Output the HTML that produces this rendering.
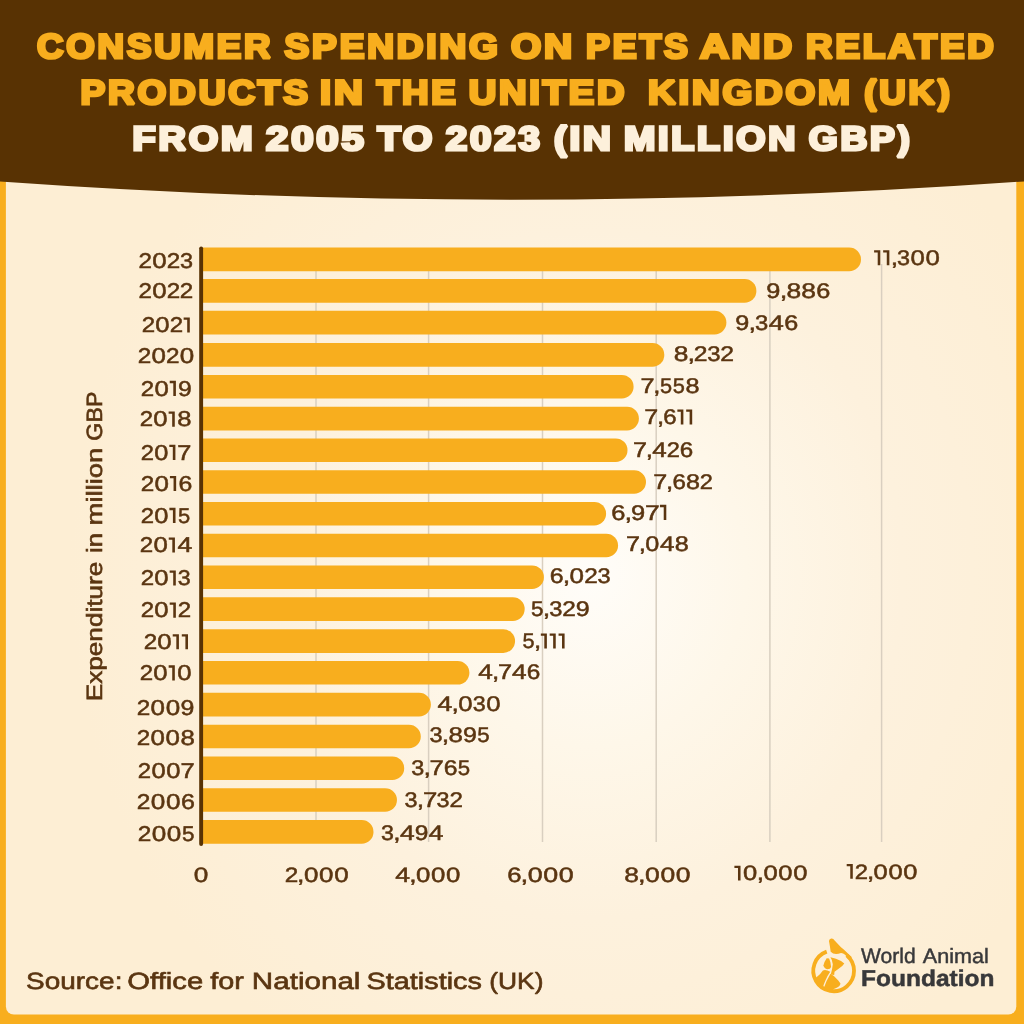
<!DOCTYPE html>
<html lang="en"><head><meta charset="utf-8"><title>Consumer spending on pets and related products in the UK 2005-2023</title>
<style>
html,body{margin:0;padding:0;background:#F8AE1E;}
body{width:1024px;height:1024px;overflow:hidden;font-family:"Liberation Sans",sans-serif;}
svg{will-change:transform;display:block;position:absolute;left:0;top:0;font-family:"Liberation Sans",sans-serif;}
text{white-space:pre;}
</style></head><body>
<svg width="1024" height="1024" viewBox="0 0 1024 1024" text-rendering="geometricPrecision">
<defs><radialGradient id="bg" gradientUnits="userSpaceOnUse" cx="590" cy="0" r="520" gradientTransform="translate(0,575) scale(1,1.1)"><stop offset="0" stop-color="#FFFDF9"/><stop offset="0.3" stop-color="#FEF7E9"/><stop offset="0.6" stop-color="#FDF1DD"/><stop offset="1" stop-color="#FDEED4"/></radialGradient></defs>
<rect x="0" y="0" width="1024" height="1024" fill="#F8AE1E"/>
<path d="M5.9,150 H1016.3 V1006.5 a8,8 0 0 1 -8,8 H13.9 a8,8 0 0 1 -8,-8 Z" fill="url(#bg)"/>
<rect x="315.25" y="264" width="1.5" height="578" fill="#D9CFC0"/>
<rect x="427.85" y="264" width="1.5" height="578" fill="#D9CFC0"/>
<rect x="541.75" y="264" width="1.5" height="578" fill="#D9CFC0"/>
<rect x="655.45" y="264" width="1.5" height="578" fill="#D9CFC0"/>
<rect x="769.15" y="264" width="1.5" height="578" fill="#D9CFC0"/>
<rect x="880.85" y="264" width="1.5" height="578" fill="#D9CFC0"/>
<path d="M203,247.60 H849.20 a11.80,11.80 0 0 1 0,23.60 H203 Z" fill="#F8AE1E"/>
<path d="M203,279.10 H744.60 a11.80,11.80 0 0 1 0,23.60 H203 Z" fill="#F8AE1E"/>
<path d="M203,310.80 H714.60 a11.80,11.80 0 0 1 0,23.60 H203 Z" fill="#F8AE1E"/>
<path d="M203,343.10 H652.50 a11.80,11.80 0 0 1 0,23.60 H203 Z" fill="#F8AE1E"/>
<path d="M203,374.90 H621.80 a11.80,11.80 0 0 1 0,23.60 H203 Z" fill="#F8AE1E"/>
<path d="M203,406.80 H627.10 a11.80,11.80 0 0 1 0,23.60 H203 Z" fill="#F8AE1E"/>
<path d="M203,438.40 H615.70 a11.80,11.80 0 0 1 0,23.60 H203 Z" fill="#F8AE1E"/>
<path d="M203,470.20 H634.20 a11.80,11.80 0 0 1 0,23.60 H203 Z" fill="#F8AE1E"/>
<path d="M203,501.90 H594.30 a11.80,11.80 0 0 1 0,23.60 H203 Z" fill="#F8AE1E"/>
<path d="M203,533.70 H606.30 a11.80,11.80 0 0 1 0,23.60 H203 Z" fill="#F8AE1E"/>
<path d="M203,565.40 H532.10 a11.80,11.80 0 0 1 0,23.60 H203 Z" fill="#F8AE1E"/>
<path d="M203,597.30 H512.90 a11.80,11.80 0 0 1 0,23.60 H203 Z" fill="#F8AE1E"/>
<path d="M203,629.30 H503.30 a11.80,11.80 0 0 1 0,23.60 H203 Z" fill="#F8AE1E"/>
<path d="M203,661.00 H457.60 a11.80,11.80 0 0 1 0,23.60 H203 Z" fill="#F8AE1E"/>
<path d="M203,692.80 H419.10 a11.80,11.80 0 0 1 0,23.60 H203 Z" fill="#F8AE1E"/>
<path d="M203,724.70 H409.00 a11.80,11.80 0 0 1 0,23.60 H203 Z" fill="#F8AE1E"/>
<path d="M203,756.40 H392.40 a11.80,11.80 0 0 1 0,23.60 H203 Z" fill="#F8AE1E"/>
<path d="M203,788.20 H385.20 a11.80,11.80 0 0 1 0,23.60 H203 Z" fill="#F8AE1E"/>
<path d="M203,820.10 H361.70 a11.80,11.80 0 0 1 0,23.60 H203 Z" fill="#F8AE1E"/>
<rect x="199.2" y="246.4" width="3.9" height="599.6" rx="1.9" fill="#583203"/>
<g font-size="21.37" fill="#5A3511" stroke="#5A3511" stroke-width="0.5" vector-effect="non-scaling-stroke"><text transform="translate(138.54,267.85) scale(1.135,1)" vector-effect="non-scaling-stroke">2</text><text transform="translate(152.25,267.85) scale(1.212,1)" vector-effect="non-scaling-stroke">0</text><text transform="translate(166.72,267.85) scale(1.135,1)" vector-effect="non-scaling-stroke">2</text><text transform="translate(179.92,267.85) scale(1.098,1)" vector-effect="non-scaling-stroke">3</text></g>
<g font-size="21.37" fill="#5A3511" stroke="#5A3511" stroke-width="0.5" vector-effect="non-scaling-stroke"><text transform="translate(138.54,298.35) scale(1.133,1)" vector-effect="non-scaling-stroke">2</text><text transform="translate(152.22,298.35) scale(1.209,1)" vector-effect="non-scaling-stroke">0</text><text transform="translate(166.66,298.35) scale(1.133,1)" vector-effect="non-scaling-stroke">2</text><text transform="translate(179.73,298.35) scale(1.133,1)" vector-effect="non-scaling-stroke">2</text></g>
<g font-size="21.37" fill="#5A3511" stroke="#5A3511" stroke-width="0.5" vector-effect="non-scaling-stroke"><text transform="translate(141.75,332.35) scale(1.126,1)" vector-effect="non-scaling-stroke">2</text><text transform="translate(155.35,332.35) scale(1.202,1)" vector-effect="non-scaling-stroke">0</text><text transform="translate(169.70,332.35) scale(1.126,1)" vector-effect="non-scaling-stroke">2</text><path stroke="none" d="M183.64,317.45 H189.80 V332.60 H187.20 V319.75 H183.64 Z"/></g>
<g font-size="21.37" fill="#5A3511" stroke="#5A3511" stroke-width="0.5" vector-effect="non-scaling-stroke"><text transform="translate(137.83,362.55) scale(1.138,1)" vector-effect="non-scaling-stroke">2</text><text transform="translate(151.58,362.55) scale(1.215,1)" vector-effect="non-scaling-stroke">0</text><text transform="translate(166.07,362.55) scale(1.138,1)" vector-effect="non-scaling-stroke">2</text><text transform="translate(179.81,362.55) scale(1.215,1)" vector-effect="non-scaling-stroke">0</text></g>
<g font-size="21.37" fill="#5A3511" stroke="#5A3511" stroke-width="0.5" vector-effect="non-scaling-stroke"><text transform="translate(140.74,395.75) scale(1.128,1)" vector-effect="non-scaling-stroke">2</text><text transform="translate(154.38,395.75) scale(1.205,1)" vector-effect="non-scaling-stroke">0</text><path stroke="none" d="M169.72,380.85 H175.90 V396.00 H173.30 V383.14 H169.72 Z"/><text transform="translate(178.06,395.75) scale(1.155,1)" vector-effect="non-scaling-stroke">9</text></g>
<g font-size="21.37" fill="#5A3511" stroke="#5A3511" stroke-width="0.5" vector-effect="non-scaling-stroke"><text transform="translate(139.75,426.45) scale(1.124,1)" vector-effect="non-scaling-stroke">2</text><text transform="translate(153.34,426.45) scale(1.201,1)" vector-effect="non-scaling-stroke">0</text><path stroke="none" d="M168.62,411.55 H174.78 V426.70 H172.18 V413.84 H168.62 Z"/><text transform="translate(177.13,426.45) scale(1.198,1)" vector-effect="non-scaling-stroke">8</text></g>
<g font-size="21.37" fill="#5A3511" stroke="#5A3511" stroke-width="0.5" vector-effect="non-scaling-stroke"><text transform="translate(140.76,459.65) scale(1.112,1)" vector-effect="non-scaling-stroke">2</text><text transform="translate(154.20,459.65) scale(1.187,1)" vector-effect="non-scaling-stroke">0</text><path stroke="none" d="M169.32,444.75 H175.41 V459.90 H172.81 V447.04 H169.32 Z"/><text transform="translate(177.16,459.65) scale(1.185,1)" vector-effect="non-scaling-stroke">7</text></g>
<g font-size="21.37" fill="#5A3511" stroke="#5A3511" stroke-width="0.5" vector-effect="non-scaling-stroke"><text transform="translate(140.73,490.85) scale(1.137,1)" vector-effect="non-scaling-stroke">2</text><text transform="translate(154.47,490.85) scale(1.215,1)" vector-effect="non-scaling-stroke">0</text><path stroke="none" d="M169.93,475.95 H176.16 V491.10 H173.56 V478.25 H169.93 Z"/><text transform="translate(178.50,490.85) scale(1.164,1)" vector-effect="non-scaling-stroke">6</text></g>
<g font-size="21.37" fill="#5A3511" stroke="#5A3511" stroke-width="0.5" vector-effect="non-scaling-stroke"><text transform="translate(140.76,522.75) scale(1.116,1)" vector-effect="non-scaling-stroke">2</text><text transform="translate(154.24,522.75) scale(1.191,1)" vector-effect="non-scaling-stroke">0</text><path stroke="none" d="M169.41,507.85 H175.52 V523.00 H172.92 V510.14 H169.41 Z"/><text transform="translate(178.06,522.75) scale(1.026,1)" vector-effect="non-scaling-stroke">5</text></g>
<g font-size="21.37" fill="#5A3511" stroke="#5A3511" stroke-width="0.5" vector-effect="non-scaling-stroke"><text transform="translate(139.74,552.35) scale(1.129,1)" vector-effect="non-scaling-stroke">2</text><text transform="translate(153.39,552.35) scale(1.206,1)" vector-effect="non-scaling-stroke">0</text><path stroke="none" d="M168.74,537.45 H174.92 V552.60 H172.32 V539.75 H168.74 Z"/><text transform="translate(177.44,552.35) scale(1.242,1)" vector-effect="non-scaling-stroke">4</text></g>
<g font-size="21.37" fill="#5A3511" stroke="#5A3511" stroke-width="0.5" vector-effect="non-scaling-stroke"><text transform="translate(140.75,585.35) scale(1.125,1)" vector-effect="non-scaling-stroke">2</text><text transform="translate(154.35,585.35) scale(1.202,1)" vector-effect="non-scaling-stroke">0</text><path stroke="none" d="M169.65,570.45 H175.81 V585.60 H173.21 V572.75 H169.65 Z"/><text transform="translate(177.83,585.35) scale(1.089,1)" vector-effect="non-scaling-stroke">3</text></g>
<g font-size="21.37" fill="#5A3511" stroke="#5A3511" stroke-width="0.5" vector-effect="non-scaling-stroke"><text transform="translate(140.75,617.45) scale(1.127,1)" vector-effect="non-scaling-stroke">2</text><text transform="translate(154.37,617.45) scale(1.204,1)" vector-effect="non-scaling-stroke">0</text><path stroke="none" d="M169.70,602.55 H175.87 V617.70 H173.27 V604.85 H169.70 Z"/><text transform="translate(177.78,617.45) scale(1.127,1)" vector-effect="non-scaling-stroke">2</text></g>
<g font-size="21.37" fill="#5A3511" stroke="#5A3511" stroke-width="0.5" vector-effect="non-scaling-stroke"><text transform="translate(143.64,649.05) scale(1.133,1)" vector-effect="non-scaling-stroke">2</text><text transform="translate(157.32,649.05) scale(1.209,1)" vector-effect="non-scaling-stroke">0</text><path stroke="none" d="M172.72,634.15 H178.92 V649.30 H176.32 V636.44 H172.72 Z"/><path stroke="none" d="M181.80,634.15 H188.00 V649.30 H185.40 V636.44 H181.80 Z"/></g>
<g font-size="21.37" fill="#5A3511" stroke="#5A3511" stroke-width="0.5" vector-effect="non-scaling-stroke"><text transform="translate(139.75,680.25) scale(1.126,1)" vector-effect="non-scaling-stroke">2</text><text transform="translate(153.35,680.25) scale(1.202,1)" vector-effect="non-scaling-stroke">0</text><path stroke="none" d="M168.66,665.35 H174.83 V680.50 H172.23 V667.64 H168.66 Z"/><text transform="translate(177.35,680.25) scale(1.202,1)" vector-effect="non-scaling-stroke">0</text></g>
<g font-size="21.37" fill="#5A3511" stroke="#5A3511" stroke-width="0.5" vector-effect="non-scaling-stroke"><text transform="translate(136.83,714.55) scale(1.140,1)" vector-effect="non-scaling-stroke">2</text><text transform="translate(150.60,714.55) scale(1.217,1)" vector-effect="non-scaling-stroke">0</text><text transform="translate(165.75,714.55) scale(1.217,1)" vector-effect="non-scaling-stroke">0</text><text transform="translate(180.53,714.55) scale(1.167,1)" vector-effect="non-scaling-stroke">9</text></g>
<g font-size="21.37" fill="#5A3511" stroke="#5A3511" stroke-width="0.5" vector-effect="non-scaling-stroke"><text transform="translate(136.84,744.65) scale(1.134,1)" vector-effect="non-scaling-stroke">2</text><text transform="translate(150.54,744.65) scale(1.211,1)" vector-effect="non-scaling-stroke">0</text><text transform="translate(165.61,744.65) scale(1.211,1)" vector-effect="non-scaling-stroke">0</text><text transform="translate(180.52,744.65) scale(1.208,1)" vector-effect="non-scaling-stroke">8</text></g>
<g font-size="21.37" fill="#5A3511" stroke="#5A3511" stroke-width="0.5" vector-effect="non-scaling-stroke"><text transform="translate(137.85,777.85) scale(1.119,1)" vector-effect="non-scaling-stroke">2</text><text transform="translate(151.38,777.85) scale(1.195,1)" vector-effect="non-scaling-stroke">0</text><text transform="translate(166.25,777.85) scale(1.195,1)" vector-effect="non-scaling-stroke">0</text><text transform="translate(180.38,777.85) scale(1.193,1)" vector-effect="non-scaling-stroke">7</text></g>
<g font-size="21.37" fill="#5A3511" stroke="#5A3511" stroke-width="0.5" vector-effect="non-scaling-stroke"><text transform="translate(136.83,809.15) scale(1.146,1)" vector-effect="non-scaling-stroke">2</text><text transform="translate(150.66,809.15) scale(1.224,1)" vector-effect="non-scaling-stroke">0</text><text transform="translate(165.89,809.15) scale(1.224,1)" vector-effect="non-scaling-stroke">0</text><text transform="translate(180.91,809.15) scale(1.173,1)" vector-effect="non-scaling-stroke">6</text></g>
<g font-size="21.37" fill="#5A3511" stroke="#5A3511" stroke-width="0.5" vector-effect="non-scaling-stroke"><text transform="translate(137.83,841.35) scale(1.144,1)" vector-effect="non-scaling-stroke">2</text><text transform="translate(151.64,841.35) scale(1.221,1)" vector-effect="non-scaling-stroke">0</text><text transform="translate(166.84,841.35) scale(1.221,1)" vector-effect="non-scaling-stroke">0</text><text transform="translate(182.07,841.35) scale(1.052,1)" vector-effect="non-scaling-stroke">5</text></g>
<g font-size="21.23" fill="#5A3511" stroke="#5A3511" stroke-width="0.5" vector-effect="non-scaling-stroke"><path stroke="none" d="M874.10,250.15 H880.29 V265.20 H877.71 V252.43 H874.10 Z"/><path stroke="none" d="M883.16,250.15 H889.36 V265.20 H886.77 V252.43 H883.16 Z"/><text transform="translate(890.64,264.95) scale(1.254,1)" vector-effect="non-scaling-stroke">,</text><text transform="translate(896.91,264.95) scale(1.102,1)" vector-effect="non-scaling-stroke">3</text><text transform="translate(910.46,264.95) scale(1.216,1)" vector-effect="non-scaling-stroke">0</text><text transform="translate(925.49,264.95) scale(1.216,1)" vector-effect="non-scaling-stroke">0</text></g>
<g font-size="21.23" fill="#5A3511" stroke="#5A3511" stroke-width="0.5" vector-effect="non-scaling-stroke"><text transform="translate(766.35,298.15) scale(1.193,1)" vector-effect="non-scaling-stroke">9</text><text transform="translate(779.68,298.15) scale(1.288,1)" vector-effect="non-scaling-stroke">,</text><text transform="translate(786.45,298.15) scale(1.242,1)" vector-effect="non-scaling-stroke">8</text><text transform="translate(801.37,298.15) scale(1.242,1)" vector-effect="non-scaling-stroke">8</text><text transform="translate(816.27,298.15) scale(1.193,1)" vector-effect="non-scaling-stroke">6</text></g>
<g font-size="21.23" fill="#5A3511" stroke="#5A3511" stroke-width="0.5" vector-effect="non-scaling-stroke"><text transform="translate(735.35,330.45) scale(1.187,1)" vector-effect="non-scaling-stroke">9</text><text transform="translate(748.62,330.45) scale(1.281,1)" vector-effect="non-scaling-stroke">,</text><text transform="translate(755.01,330.45) scale(1.122,1)" vector-effect="non-scaling-stroke">3</text><text transform="translate(768.80,330.45) scale(1.276,1)" vector-effect="non-scaling-stroke">4</text><text transform="translate(784.14,330.45) scale(1.187,1)" vector-effect="non-scaling-stroke">6</text></g>
<g font-size="21.23" fill="#5A3511" stroke="#5A3511" stroke-width="0.5" vector-effect="non-scaling-stroke"><text transform="translate(673.63,360.75) scale(1.240,1)" vector-effect="non-scaling-stroke">8</text><text transform="translate(687.42,360.75) scale(1.286,1)" vector-effect="non-scaling-stroke">,</text><text transform="translate(693.73,360.75) scale(1.164,1)" vector-effect="non-scaling-stroke">2</text><text transform="translate(707.16,360.75) scale(1.126,1)" vector-effect="non-scaling-stroke">3</text><text transform="translate(720.37,360.75) scale(1.164,1)" vector-effect="non-scaling-stroke">2</text></g>
<g font-size="21.23" fill="#5A3511" stroke="#5A3511" stroke-width="0.5" vector-effect="non-scaling-stroke"><text transform="translate(640.62,393.35) scale(1.189,1)" vector-effect="non-scaling-stroke">7</text><text transform="translate(653.37,393.35) scale(1.225,1)" vector-effect="non-scaling-stroke">,</text><text transform="translate(660.05,393.35) scale(1.025,1)" vector-effect="non-scaling-stroke">5</text><text transform="translate(672.84,393.35) scale(1.025,1)" vector-effect="non-scaling-stroke">5</text><text transform="translate(685.42,393.35) scale(1.188,1)" vector-effect="non-scaling-stroke">8</text></g>
<g font-size="21.23" fill="#5A3511" stroke="#5A3511" stroke-width="0.5" vector-effect="non-scaling-stroke"><text transform="translate(644.24,424.25) scale(1.180,1)" vector-effect="non-scaling-stroke">7</text><text transform="translate(656.89,424.25) scale(1.214,1)" vector-effect="non-scaling-stroke">,</text><text transform="translate(663.28,424.25) scale(1.132,1)" vector-effect="non-scaling-stroke">6</text><path stroke="none" d="M677.36,409.45 H683.38 V424.50 H680.80 V411.73 H677.36 Z"/><path stroke="none" d="M686.18,409.45 H692.20 V424.50 H689.62 V411.73 H686.18 Z"/></g>
<g font-size="21.23" fill="#5A3511" stroke="#5A3511" stroke-width="0.5" vector-effect="non-scaling-stroke"><text transform="translate(633.03,457.25) scale(1.186,1)" vector-effect="non-scaling-stroke">7</text><text transform="translate(645.75,457.25) scale(1.222,1)" vector-effect="non-scaling-stroke">,</text><text transform="translate(652.37,457.25) scale(1.225,1)" vector-effect="non-scaling-stroke">4</text><text transform="translate(666.69,457.25) scale(1.113,1)" vector-effect="non-scaling-stroke">2</text><text transform="translate(679.86,457.25) scale(1.139,1)" vector-effect="non-scaling-stroke">6</text></g>
<g font-size="21.23" fill="#5A3511" stroke="#5A3511" stroke-width="0.5" vector-effect="non-scaling-stroke"><text transform="translate(653.33,489.05) scale(1.183,1)" vector-effect="non-scaling-stroke">7</text><text transform="translate(666.02,489.05) scale(1.218,1)" vector-effect="non-scaling-stroke">,</text><text transform="translate(672.43,489.05) scale(1.136,1)" vector-effect="non-scaling-stroke">6</text><text transform="translate(686.05,489.05) scale(1.182,1)" vector-effect="non-scaling-stroke">8</text><text transform="translate(699.85,489.05) scale(1.110,1)" vector-effect="non-scaling-stroke">2</text></g>
<g font-size="21.23" fill="#5A3511" stroke="#5A3511" stroke-width="0.5" vector-effect="non-scaling-stroke"><text transform="translate(611.18,519.65) scale(1.199,1)" vector-effect="non-scaling-stroke">6</text><text transform="translate(624.41,519.65) scale(1.296,1)" vector-effect="non-scaling-stroke">,</text><text transform="translate(631.02,519.65) scale(1.199,1)" vector-effect="non-scaling-stroke">9</text><text transform="translate(644.93,519.65) scale(1.250,1)" vector-effect="non-scaling-stroke">7</text><path stroke="none" d="M659.94,504.85 H666.30 V519.90 H663.72 V507.13 H659.94 Z"/></g>
<g font-size="21.23" fill="#5A3511" stroke="#5A3511" stroke-width="0.5" vector-effect="non-scaling-stroke"><text transform="translate(625.93,551.25) scale(1.187,1)" vector-effect="non-scaling-stroke">7</text><text transform="translate(638.65,551.25) scale(1.222,1)" vector-effect="non-scaling-stroke">,</text><text transform="translate(645.28,551.25) scale(1.189,1)" vector-effect="non-scaling-stroke">0</text><text transform="translate(659.98,551.25) scale(1.225,1)" vector-effect="non-scaling-stroke">4</text><text transform="translate(674.75,551.25) scale(1.186,1)" vector-effect="non-scaling-stroke">8</text></g>
<g font-size="21.23" fill="#5A3511" stroke="#5A3511" stroke-width="0.5" vector-effect="non-scaling-stroke"><text transform="translate(549.80,583.05) scale(1.174,1)" vector-effect="non-scaling-stroke">6</text><text transform="translate(562.77,583.05) scale(1.265,1)" vector-effect="non-scaling-stroke">,</text><text transform="translate(569.61,583.05) scale(1.225,1)" vector-effect="non-scaling-stroke">0</text><text transform="translate(584.13,583.05) scale(1.147,1)" vector-effect="non-scaling-stroke">2</text><text transform="translate(597.38,583.05) scale(1.110,1)" vector-effect="non-scaling-stroke">3</text></g>
<g font-size="21.23" fill="#5A3511" stroke="#5A3511" stroke-width="0.5" vector-effect="non-scaling-stroke"><text transform="translate(530.95,616.15) scale(1.059,1)" vector-effect="non-scaling-stroke">5</text><text transform="translate(542.83,616.15) scale(1.270,1)" vector-effect="non-scaling-stroke">,</text><text transform="translate(549.18,616.15) scale(1.114,1)" vector-effect="non-scaling-stroke">3</text><text transform="translate(562.25,616.15) scale(1.151,1)" vector-effect="non-scaling-stroke">2</text><text transform="translate(575.69,616.15) scale(1.178,1)" vector-effect="non-scaling-stroke">9</text></g>
<g font-size="21.23" fill="#5A3511" stroke="#5A3511" stroke-width="0.5" vector-effect="non-scaling-stroke"><text transform="translate(522.38,648.35) scale(1.022,1)" vector-effect="non-scaling-stroke">5</text><text transform="translate(533.89,648.35) scale(1.220,1)" vector-effect="non-scaling-stroke">,</text><path stroke="none" d="M540.83,633.55 H546.88 V648.60 H544.30 V635.83 H540.83 Z"/><path stroke="none" d="M549.69,633.55 H555.74 V648.60 H553.16 V635.83 H549.69 Z"/><path stroke="none" d="M558.55,633.55 H564.60 V648.60 H562.02 V635.83 H558.55 Z"/></g>
<g font-size="21.23" fill="#5A3511" stroke="#5A3511" stroke-width="0.5" vector-effect="non-scaling-stroke"><text transform="translate(478.16,679.35) scale(1.234,1)" vector-effect="non-scaling-stroke">4</text><text transform="translate(491.97,679.35) scale(1.232,1)" vector-effect="non-scaling-stroke">,</text><text transform="translate(497.90,679.35) scale(1.195,1)" vector-effect="non-scaling-stroke">7</text><text transform="translate(511.93,679.35) scale(1.234,1)" vector-effect="non-scaling-stroke">4</text><text transform="translate(526.77,679.35) scale(1.147,1)" vector-effect="non-scaling-stroke">6</text></g>
<g font-size="21.23" fill="#5A3511" stroke="#5A3511" stroke-width="0.5" vector-effect="non-scaling-stroke"><text transform="translate(437.45,710.75) scale(1.250,1)" vector-effect="non-scaling-stroke">4</text><text transform="translate(451.44,710.75) scale(1.251,1)" vector-effect="non-scaling-stroke">,</text><text transform="translate(458.20,710.75) scale(1.213,1)" vector-effect="non-scaling-stroke">0</text><text transform="translate(472.70,710.75) scale(1.099,1)" vector-effect="non-scaling-stroke">3</text><text transform="translate(486.22,710.75) scale(1.213,1)" vector-effect="non-scaling-stroke">0</text></g>
<g font-size="21.23" fill="#5A3511" stroke="#5A3511" stroke-width="0.5" vector-effect="non-scaling-stroke"><text transform="translate(429.47,742.45) scale(1.107,1)" vector-effect="non-scaling-stroke">3</text><text transform="translate(441.83,742.45) scale(1.262,1)" vector-effect="non-scaling-stroke">,</text><text transform="translate(448.47,742.45) scale(1.219,1)" vector-effect="non-scaling-stroke">8</text><text transform="translate(462.95,742.45) scale(1.171,1)" vector-effect="non-scaling-stroke">9</text><text transform="translate(477.35,742.45) scale(1.052,1)" vector-effect="non-scaling-stroke">5</text></g>
<g font-size="21.23" fill="#5A3511" stroke="#5A3511" stroke-width="0.5" vector-effect="non-scaling-stroke"><text transform="translate(411.27,775.45) scale(1.102,1)" vector-effect="non-scaling-stroke">3</text><text transform="translate(423.57,775.45) scale(1.254,1)" vector-effect="non-scaling-stroke">,</text><text transform="translate(429.59,775.45) scale(1.214,1)" vector-effect="non-scaling-stroke">7</text><text transform="translate(443.64,775.45) scale(1.165,1)" vector-effect="non-scaling-stroke">6</text><text transform="translate(457.81,775.45) scale(1.047,1)" vector-effect="non-scaling-stroke">5</text></g>
<g font-size="21.23" fill="#5A3511" stroke="#5A3511" stroke-width="0.5" vector-effect="non-scaling-stroke"><text transform="translate(404.57,807.35) scale(1.101,1)" vector-effect="non-scaling-stroke">3</text><text transform="translate(416.87,807.35) scale(1.253,1)" vector-effect="non-scaling-stroke">,</text><text transform="translate(422.88,807.35) scale(1.213,1)" vector-effect="non-scaling-stroke">7</text><text transform="translate(436.62,807.35) scale(1.101,1)" vector-effect="non-scaling-stroke">3</text><text transform="translate(449.55,807.35) scale(1.138,1)" vector-effect="non-scaling-stroke">2</text></g>
<g font-size="21.23" fill="#5A3511" stroke="#5A3511" stroke-width="0.5" vector-effect="non-scaling-stroke"><text transform="translate(380.98,839.55) scale(1.092,1)" vector-effect="non-scaling-stroke">3</text><text transform="translate(393.18,839.55) scale(1.242,1)" vector-effect="non-scaling-stroke">,</text><text transform="translate(399.90,839.55) scale(1.242,1)" vector-effect="non-scaling-stroke">4</text><text transform="translate(414.67,839.55) scale(1.155,1)" vector-effect="non-scaling-stroke">9</text><text transform="translate(428.84,839.55) scale(1.242,1)" vector-effect="non-scaling-stroke">4</text></g>
<g font-size="20.79" fill="#5A3511" stroke="#5A3511" stroke-width="0.5" vector-effect="non-scaling-stroke"><text transform="translate(193.70,882.35) scale(1.259,1)" vector-effect="non-scaling-stroke">0</text></g>
<g font-size="20.79" fill="#5A3511" stroke="#5A3511" stroke-width="0.5" vector-effect="non-scaling-stroke"><text transform="translate(284.64,882.35) scale(1.168,1)" vector-effect="non-scaling-stroke">2</text><text transform="translate(297.10,882.35) scale(1.287,1)" vector-effect="non-scaling-stroke">,</text><text transform="translate(303.92,882.35) scale(1.247,1)" vector-effect="non-scaling-stroke">0</text><text transform="translate(319.02,882.35) scale(1.247,1)" vector-effect="non-scaling-stroke">0</text><text transform="translate(334.13,882.35) scale(1.247,1)" vector-effect="non-scaling-stroke">0</text></g>
<g font-size="20.79" fill="#5A3511" stroke="#5A3511" stroke-width="0.5" vector-effect="non-scaling-stroke"><text transform="translate(395.15,882.35) scale(1.276,1)" vector-effect="non-scaling-stroke">4</text><text transform="translate(409.14,882.35) scale(1.277,1)" vector-effect="non-scaling-stroke">,</text><text transform="translate(415.91,882.35) scale(1.239,1)" vector-effect="non-scaling-stroke">0</text><text transform="translate(430.91,882.35) scale(1.239,1)" vector-effect="non-scaling-stroke">0</text><text transform="translate(445.92,882.35) scale(1.239,1)" vector-effect="non-scaling-stroke">0</text></g>
<g font-size="20.79" fill="#5A3511" stroke="#5A3511" stroke-width="0.5" vector-effect="non-scaling-stroke"><text transform="translate(507.26,882.35) scale(1.236,1)" vector-effect="non-scaling-stroke">6</text><text transform="translate(520.62,882.35) scale(1.338,1)" vector-effect="non-scaling-stroke">,</text><text transform="translate(527.67,882.35) scale(1.290,1)" vector-effect="non-scaling-stroke">0</text><text transform="translate(543.27,882.35) scale(1.290,1)" vector-effect="non-scaling-stroke">0</text><text transform="translate(558.87,882.35) scale(1.290,1)" vector-effect="non-scaling-stroke">0</text></g>
<g font-size="20.79" fill="#5A3511" stroke="#5A3511" stroke-width="0.5" vector-effect="non-scaling-stroke"><text transform="translate(624.23,882.35) scale(1.271,1)" vector-effect="non-scaling-stroke">8</text><text transform="translate(638.07,882.35) scale(1.318,1)" vector-effect="non-scaling-stroke">,</text><text transform="translate(645.03,882.35) scale(1.273,1)" vector-effect="non-scaling-stroke">0</text><text transform="translate(660.44,882.35) scale(1.273,1)" vector-effect="non-scaling-stroke">0</text><text transform="translate(675.85,882.35) scale(1.273,1)" vector-effect="non-scaling-stroke">0</text></g>
<g font-size="20.79" fill="#5A3511" stroke="#5A3511" stroke-width="0.5" vector-effect="non-scaling-stroke"><path stroke="none" d="M734.40,865.65 H740.53 V880.40 H737.99 V867.88 H734.40 Z"/><text transform="translate(743.04,880.15) scale(1.228,1)" vector-effect="non-scaling-stroke">0</text><text transform="translate(756.68,880.15) scale(1.264,1)" vector-effect="non-scaling-stroke">,</text><text transform="translate(763.38,880.15) scale(1.228,1)" vector-effect="non-scaling-stroke">0</text><text transform="translate(778.26,880.15) scale(1.228,1)" vector-effect="non-scaling-stroke">0</text><text transform="translate(793.14,880.15) scale(1.228,1)" vector-effect="non-scaling-stroke">0</text></g>
<g font-size="20.79" fill="#5A3511" stroke="#5A3511" stroke-width="0.5" vector-effect="non-scaling-stroke"><path stroke="none" d="M846.70,864.05 H852.80 V878.80 H850.26 V866.28 H846.70 Z"/><text transform="translate(854.69,878.55) scale(1.144,1)" vector-effect="non-scaling-stroke">2</text><text transform="translate(866.92,878.55) scale(1.257,1)" vector-effect="non-scaling-stroke">,</text><text transform="translate(873.59,878.55) scale(1.222,1)" vector-effect="non-scaling-stroke">0</text><text transform="translate(888.40,878.55) scale(1.222,1)" vector-effect="non-scaling-stroke">0</text><text transform="translate(903.20,878.55) scale(1.222,1)" vector-effect="non-scaling-stroke">0</text></g>
<text transform="translate(102.20,701.26) rotate(-90) scale(1.1833,1)" font-size="22.11" fill="#5A3511" stroke="#5A3511" stroke-width="0.6" vector-effect="non-scaling-stroke">Expenditure</text>
<text transform="translate(102.20,553.04) rotate(-90) scale(1.1641,1)" font-size="22.11" fill="#5A3511" stroke="#5A3511" stroke-width="0.6" vector-effect="non-scaling-stroke">in</text>
<text transform="translate(102.20,525.45) rotate(-90) scale(1.2413,1)" font-size="22.11" fill="#5A3511" stroke="#5A3511" stroke-width="0.6" vector-effect="non-scaling-stroke">million</text>
<text transform="translate(102.20,440.66) rotate(-90) scale(1.0531,1)" font-size="22.11" fill="#5A3511" stroke="#5A3511" stroke-width="0.6" vector-effect="non-scaling-stroke">GBP</text>
<path d="M0,0 H1024 V181.4 Q512,218.0 0,181.5 Z" fill="#583203"/>
<text transform="translate(37.03,58.30) scale(1.0679,1)" font-size="34.33" font-weight="700" fill="#F8AE1E" stroke="#F8AE1E" stroke-width="3.0" stroke-linejoin="miter" stroke-miterlimit="2" vector-effect="non-scaling-stroke" letter-spacing="2.622">CONSUMER</text>
<text transform="translate(284.59,58.30) scale(1.0801,1)" font-size="34.33" font-weight="700" fill="#F8AE1E" stroke="#F8AE1E" stroke-width="3.0" stroke-linejoin="miter" stroke-miterlimit="2" vector-effect="non-scaling-stroke" letter-spacing="2.592">SPENDING</text>
<text transform="translate(510.94,58.30) scale(1.1339,1)" font-size="34.33" font-weight="700" fill="#F8AE1E" stroke="#F8AE1E" stroke-width="3.0" stroke-linejoin="miter" stroke-miterlimit="2" vector-effect="non-scaling-stroke" letter-spacing="2.469">ON</text>
<text transform="translate(586.09,58.30) scale(1.0420,1)" font-size="34.33" font-weight="700" fill="#F8AE1E" stroke="#F8AE1E" stroke-width="3.0" stroke-linejoin="miter" stroke-miterlimit="2" vector-effect="non-scaling-stroke" letter-spacing="2.687">PETS</text>
<text transform="translate(699.90,58.30) scale(1.1653,1)" font-size="34.33" font-weight="700" fill="#F8AE1E" stroke="#F8AE1E" stroke-width="3.0" stroke-linejoin="miter" stroke-miterlimit="2" vector-effect="non-scaling-stroke" letter-spacing="2.403">AND</text>
<text transform="translate(806.02,58.30) scale(1.0715,1)" font-size="34.33" font-weight="700" fill="#F8AE1E" stroke="#F8AE1E" stroke-width="3.0" stroke-linejoin="miter" stroke-miterlimit="2" vector-effect="non-scaling-stroke" letter-spacing="2.613">RELATED</text>
<text transform="translate(80.40,103.80) scale(1.0888,1)" font-size="34.04" font-weight="700" fill="#F8AE1E" stroke="#F8AE1E" stroke-width="3.0" stroke-linejoin="miter" stroke-miterlimit="2" vector-effect="non-scaling-stroke" letter-spacing="2.572">PRODUCTS</text>
<text transform="translate(320.11,103.80) scale(1.1718,1)" font-size="34.04" font-weight="700" fill="#F8AE1E" stroke="#F8AE1E" stroke-width="3.0" stroke-linejoin="miter" stroke-miterlimit="2" vector-effect="non-scaling-stroke" letter-spacing="2.389">IN</text>
<text transform="translate(376.73,103.80) scale(1.0788,1)" font-size="34.04" font-weight="700" fill="#F8AE1E" stroke="#F8AE1E" stroke-width="3.0" stroke-linejoin="miter" stroke-miterlimit="2" vector-effect="non-scaling-stroke" letter-spacing="2.596">THE</text>
<text transform="translate(468.71,103.80) scale(1.1192,1)" font-size="34.04" font-weight="700" fill="#F8AE1E" stroke="#F8AE1E" stroke-width="3.0" stroke-linejoin="miter" stroke-miterlimit="2" vector-effect="non-scaling-stroke" letter-spacing="2.502">UNITED</text>
<text transform="translate(648.12,103.80) scale(1.1246,1)" font-size="34.04" font-weight="700" fill="#F8AE1E" stroke="#F8AE1E" stroke-width="3.0" stroke-linejoin="miter" stroke-miterlimit="2" vector-effect="non-scaling-stroke" letter-spacing="2.490">KINGDOM</text>
<text transform="translate(864.37,103.80) scale(1.0758,1)" font-size="34.04" font-weight="700" fill="#F8AE1E" stroke="#F8AE1E" stroke-width="3.0" stroke-linejoin="miter" stroke-miterlimit="2" vector-effect="non-scaling-stroke" letter-spacing="2.603">(UK)</text>
<text transform="translate(132.54,150.30) scale(1.1231,1)" font-size="33.75" font-weight="700" fill="#FDF0DB" stroke="#FDF0DB" stroke-width="3.0" stroke-linejoin="miter" stroke-miterlimit="2" vector-effect="non-scaling-stroke" letter-spacing="2.493">FROM</text>
<text transform="translate(266.10,150.30) scale(1.1881,1)" font-size="33.75" font-weight="700" fill="#FDF0DB" stroke="#FDF0DB" stroke-width="3.0" stroke-linejoin="miter" stroke-miterlimit="2" vector-effect="non-scaling-stroke" letter-spacing="2.357">2005</text>
<text transform="translate(377.52,150.30) scale(1.1269,1)" font-size="33.75" font-weight="700" fill="#FDF0DB" stroke="#FDF0DB" stroke-width="3.0" stroke-linejoin="miter" stroke-miterlimit="2" vector-effect="non-scaling-stroke" letter-spacing="2.485">TO</text>
<text transform="translate(445.85,150.30) scale(1.1413,1)" font-size="33.75" font-weight="700" fill="#FDF0DB" stroke="#FDF0DB" stroke-width="3.0" stroke-linejoin="miter" stroke-miterlimit="2" vector-effect="non-scaling-stroke" letter-spacing="2.453">2023</text>
<text transform="translate(553.97,150.30) scale(1.1414,1)" font-size="33.75" font-weight="700" fill="#FDF0DB" stroke="#FDF0DB" stroke-width="3.0" stroke-linejoin="miter" stroke-miterlimit="2" vector-effect="non-scaling-stroke" letter-spacing="2.453">(IN</text>
<text transform="translate(623.96,150.30) scale(1.1145,1)" font-size="33.75" font-weight="700" fill="#FDF0DB" stroke="#FDF0DB" stroke-width="3.0" stroke-linejoin="miter" stroke-miterlimit="2" vector-effect="non-scaling-stroke" letter-spacing="2.512">MILLION</text>
<text transform="translate(808.72,150.30) scale(1.0993,1)" font-size="33.75" font-weight="700" fill="#FDF0DB" stroke="#FDF0DB" stroke-width="3.0" stroke-linejoin="miter" stroke-miterlimit="2" vector-effect="non-scaling-stroke" letter-spacing="2.547">GBP)</text>
<text transform="translate(26.04,989.40) scale(1.1946,1)" font-size="23.42" fill="#5A3511" stroke="#5A3511" stroke-width="0.6" stroke-linejoin="miter" stroke-miterlimit="2" vector-effect="non-scaling-stroke">Source:</text>
<text transform="translate(127.31,989.40) scale(1.2491,1)" font-size="23.42" fill="#5A3511" stroke="#5A3511" stroke-width="0.6" stroke-linejoin="miter" stroke-miterlimit="2" vector-effect="non-scaling-stroke">Office</text>
<text transform="translate(210.27,989.40) scale(1.2313,1)" font-size="23.42" fill="#5A3511" stroke="#5A3511" stroke-width="0.6" stroke-linejoin="miter" stroke-miterlimit="2" vector-effect="non-scaling-stroke">for</text>
<text transform="translate(251.86,989.40) scale(1.2641,1)" font-size="23.42" fill="#5A3511" stroke="#5A3511" stroke-width="0.6" stroke-linejoin="miter" stroke-miterlimit="2" vector-effect="non-scaling-stroke">National</text>
<text transform="translate(366.50,989.40) scale(1.2331,1)" font-size="23.42" fill="#5A3511" stroke="#5A3511" stroke-width="0.6" stroke-linejoin="miter" stroke-miterlimit="2" vector-effect="non-scaling-stroke">Statistics</text>
<text transform="translate(489.25,989.40) scale(1.1284,1)" font-size="23.42" fill="#5A3511" stroke="#5A3511" stroke-width="0.6" stroke-linejoin="miter" stroke-miterlimit="2" vector-effect="non-scaling-stroke">(UK)</text>
<g transform="translate(800,930) scale(0.06835)" fill="#F8AE1E">
<path d="M684,369 A298,298 0 1 1 391,317" fill="none" stroke="#F8AE1E" stroke-width="56"/>
<path d="M449,319 L438,241 L424,162 Q428,120 464,124 Q492,127 503,150 L548,198 Q592,250 640,286 L760,398 L705,430 Q665,340 600,338 Q500,372 449,319 Z"/>
<path d="M390,412 Q350,470 343,520 Q350,560 400,576 Q445,570 455,540 Q452,470 425,418 Z"/>
<path d="M445,398 Q530,412 600,452 L648,490 Q625,530 560,572 L505,612 L500,660 L450,650 Q475,560 480,500 Q475,440 445,398 Z"/>
<path d="M225,705 Q300,650 335,592 Q380,575 442,612 Q400,670 372,740 Q345,800 335,838 L420,905 Q280,860 225,705 Z"/>
<path d="M446,640 Q510,670 560,740 L592,782 Q590,820 530,848 L478,872 L560,900 Q440,930 350,845 Q380,750 446,640 Z"/>
</g>
<text transform="translate(861.12,962.57) scale(1.0015,1)" font-size="21.02" fill="#38383A" stroke="#38383A" stroke-width="0.45" stroke-linejoin="miter" stroke-miterlimit="2" vector-effect="non-scaling-stroke">World</text>
<text transform="translate(922.87,962.57) scale(1.0482,1)" font-size="20.58" fill="#38383A" stroke="#38383A" stroke-width="0.45" stroke-linejoin="miter" stroke-miterlimit="2" vector-effect="non-scaling-stroke">Animal</text>
<text transform="translate(861.10,985.95) scale(1.0727,1)" font-size="22.84" font-weight="700" fill="#38383A" stroke="#38383A" stroke-width="0.5" stroke-linejoin="miter" stroke-miterlimit="2" vector-effect="non-scaling-stroke">Foundation</text>
</svg>
</body></html>
